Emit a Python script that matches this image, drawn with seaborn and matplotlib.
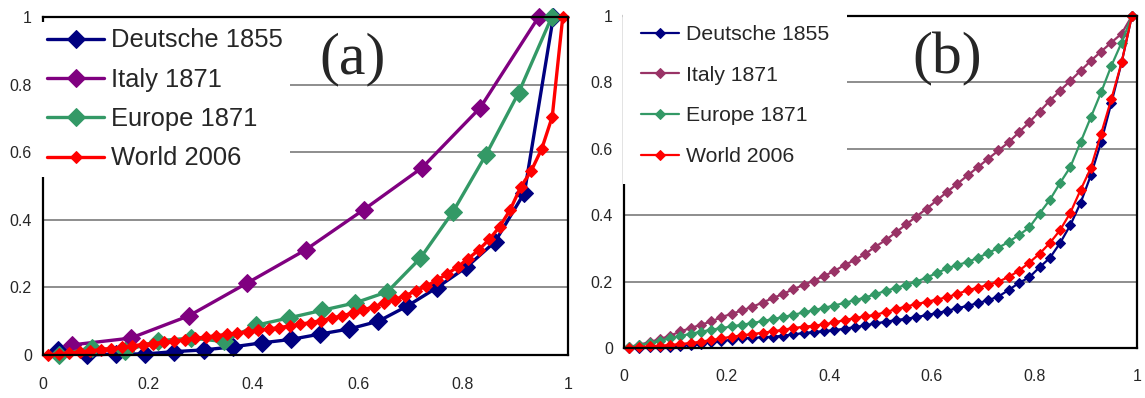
import matplotlib
matplotlib.use('Agg')
import matplotlib.pyplot as plt
import seaborn as sns
import pandas as pd
from matplotlib import font_manager

# ---------------- data ----------------
series_names = ['Deutsche 1855', 'Italy 1871', 'Europe 1871', 'World 2006']

# panel (a)
deutsche_a_x = [0.028, 0.083, 0.139, 0.194, 0.25, 0.306, 0.361, 0.417, 0.472, 0.528,
                0.583, 0.639, 0.694, 0.75, 0.806, 0.861, 0.917, 0.972]
deutsche_a_y = [0.015, 0.0, 0.003, 0.003, 0.01, 0.015, 0.024, 0.036, 0.046, 0.062,
                0.077, 0.1, 0.145, 0.199, 0.259, 0.335, 0.48, 1.0]
italy_a_x = [0.056, 0.167, 0.278, 0.389, 0.5, 0.611, 0.722, 0.833, 0.944]
italy_a_y = [0.03, 0.05, 0.116, 0.213, 0.311, 0.43, 0.554, 0.732, 1.0]
europe_a_x = [0.031, 0.094, 0.156, 0.219, 0.281, 0.344, 0.406, 0.469, 0.531, 0.594,
              0.656, 0.719, 0.781, 0.844, 0.906, 0.969]
europe_a_y = [0.0, 0.022, 0.012, 0.042, 0.05, 0.04, 0.088, 0.11, 0.132, 0.154,
              0.187, 0.287, 0.424, 0.593, 0.776, 1.0]
share50 = [0.01, 0.03, 0.05, 0.07, 0.09, 0.11, 0.13, 0.15, 0.17, 0.19,
           0.21, 0.23, 0.25, 0.27, 0.29, 0.31, 0.33, 0.35, 0.37, 0.39,
           0.41, 0.43, 0.45, 0.47, 0.49, 0.51, 0.53, 0.55, 0.57, 0.59,
           0.61, 0.63, 0.65, 0.67, 0.69, 0.71, 0.73, 0.75, 0.77, 0.79,
           0.81, 0.83, 0.85, 0.87, 0.89, 0.91, 0.93, 0.95, 0.97, 0.99]
world_a_y = [0.0, 0.003, 0.006, 0.009, 0.012, 0.016, 0.019, 0.023, 0.027, 0.031,
             0.034, 0.038, 0.041, 0.045, 0.049, 0.053, 0.057, 0.061, 0.065, 0.069,
             0.073, 0.077, 0.081, 0.086, 0.091, 0.096, 0.102, 0.109, 0.116, 0.124,
             0.133, 0.143, 0.153, 0.164, 0.176, 0.189, 0.204, 0.221, 0.24, 0.261,
             0.285, 0.311, 0.342, 0.38, 0.43, 0.497, 0.545, 0.61, 0.705, 1.0]

# panel (b)
deutsche_b_y = [0.0, 0.001, 0.002, 0.003, 0.004, 0.006, 0.009, 0.013, 0.017, 0.021,
                0.025, 0.029, 0.031, 0.032, 0.034, 0.037, 0.041, 0.045, 0.048, 0.051,
                0.054, 0.058, 0.063, 0.068, 0.074, 0.079, 0.084, 0.088, 0.093, 0.099,
                0.105, 0.112, 0.12, 0.127, 0.135, 0.144, 0.155, 0.175, 0.196, 0.213,
                0.243, 0.271, 0.316, 0.37, 0.437, 0.52, 0.62, 0.738, 0.86, 1.0]
italy_b_y = [0.003, 0.01, 0.018, 0.027, 0.037, 0.05, 0.06, 0.07, 0.08, 0.093,
             0.103, 0.113, 0.124, 0.137, 0.15, 0.163, 0.177, 0.19, 0.203, 0.217,
             0.232, 0.25, 0.265, 0.283, 0.305, 0.325, 0.348, 0.372, 0.396, 0.42,
             0.445, 0.47, 0.495, 0.52, 0.545, 0.57, 0.595, 0.62, 0.65, 0.68,
             0.712, 0.745, 0.775, 0.805, 0.835, 0.865, 0.893, 0.92, 0.947, 1.0]
europe_b_y = [0.002, 0.008, 0.015, 0.022, 0.029, 0.036, 0.043, 0.049, 0.055, 0.06,
              0.065, 0.07, 0.075, 0.081, 0.087, 0.093, 0.1, 0.107, 0.114, 0.121,
              0.128, 0.136, 0.144, 0.152, 0.162, 0.172, 0.181, 0.19, 0.2, 0.212,
              0.226, 0.24, 0.25, 0.259, 0.272, 0.286, 0.302, 0.32, 0.34, 0.363,
              0.405, 0.446, 0.497, 0.545, 0.62, 0.695, 0.77, 0.85, 0.92, 1.0]
world_b_y = [0.0, 0.003, 0.005, 0.007, 0.009, 0.012, 0.015, 0.019, 0.024, 0.029,
             0.034, 0.038, 0.042, 0.046, 0.05, 0.055, 0.06, 0.064, 0.067, 0.071,
             0.077, 0.084, 0.09, 0.095, 0.1, 0.108, 0.117, 0.125, 0.132, 0.139,
             0.146, 0.153, 0.163, 0.174, 0.182, 0.19, 0.2, 0.214, 0.233, 0.257,
             0.284, 0.316, 0.355, 0.407, 0.476, 0.542, 0.645, 0.75, 0.86, 1.0]

tick_vals = [0, 0.2, 0.4, 0.6, 0.8, 1]
tick_labels = ['0', '0.2', '0.4', '0.6', '0.8', '1']

colors_a = ['#000080', '#800080', '#339966', '#FF0000']
colors_b = ['#000080', '#993366', '#339966', '#FF0000']

# ---------------- style ----------------
sns.set_style('white')
names = {f.name for f in font_manager.fontManager.ttflist}
has_narrow = 'Liberation Sans Narrow' in names
narrow = 'Liberation Sans Narrow' if has_narrow else 'Liberation Sans'
plt.rcParams['font.family'] = ['Liberation Sans', 'DejaVu Sans']

fig = plt.figure(figsize=(11.45, 3.98), dpi=100)
axA = fig.add_axes([43 / 1145, 43 / 398, 525 / 1145, 338 / 398])
axB = fig.add_axes([624 / 1145, 50 / 398, 513 / 1145, 332 / 398])


def draw(ax, data, colors, sizes, lw):
    for (name, xs, ys), c, ms in zip(data, colors, sizes):
        df = pd.DataFrame({'x': xs, 'y': ys})
        sns.lineplot(data=df, x='x', y='y', ax=ax, color=c, lw=lw, marker='D',
                     markersize=ms, markeredgecolor=c, markerfacecolor=c,
                     label=name, sort=False, estimator=None, clip_on=False)


def style_axes(ax, fam, lsize, xpad):
    ax.set_xlim(0, 1)
    ax.set_ylim(0, 1)
    ax.set_xlabel('')
    ax.set_ylabel('')
    ax.set_xticks(tick_vals)
    ax.set_xticklabels(tick_labels, family=fam, fontsize=lsize)
    ax.set_yticks(tick_vals)
    ax.set_yticklabels(tick_labels, family=fam, fontsize=lsize)
    ax.tick_params(axis='x', direction='in', length=4, width=1, color='#555555', pad=xpad)
    ax.tick_params(axis='y', direction='in', length=4, width=1, color='#333333', pad=8)
    ax.yaxis.grid(True, color='#7a7a7a', lw=1.2)
    ax.xaxis.grid(False)
    ax.set_axisbelow(True)
    for s in ax.spines.values():
        s.set_visible(True)
        s.set_color('black')
        s.set_linewidth(1.6)
    ax.set_facecolor('white')


data_a = [(series_names[0], deutsche_a_x, deutsche_a_y),
          (series_names[1], italy_a_x, italy_a_y),
          (series_names[2], europe_a_x, europe_a_y),
          (series_names[3], share50, world_a_y)]
draw(axA, data_a, colors_a, [8.7, 8.7, 8.7, 6.3], 2.4)
style_axes(axA, 'Liberation Sans', 11.5, 16)
axA.text(0.59, 0.875, '(a)', transform=axA.transAxes, fontsize=43,
         family='Liberation Serif', ha='center', va='center')
axA.legend(loc='upper left', bbox_to_anchor=(-0.005, 0.985), borderaxespad=0,
           frameon=True, facecolor='white', edgecolor='none', framealpha=1,
           fancybox=False, fontsize=18.4, handlelength=2.25, handletextpad=0.28,
           labelspacing=0.6, borderpad=0.25)

data_b = [(series_names[0], share50, deutsche_b_y),
          (series_names[1], share50, italy_b_y),
          (series_names[2], share50, europe_b_y),
          (series_names[3], share50, world_b_y)]
draw(axB, data_b, colors_b, [5.2, 5.2, 5.2, 5.2], 1.6)
b_tick_size = 12.5 if has_narrow else 11.5
b_leg_size = 16.5 if has_narrow else 15.3
style_axes(axB, narrow, b_tick_size, 15)
axB.text(0.63, 0.87, '(b)', transform=axB.transAxes, fontsize=43,
         family='Liberation Serif', ha='center', va='center')
axB.legend(loc='upper left', bbox_to_anchor=(-0.002, 1.027), borderaxespad=0,
           frameon=True, facecolor='white', edgecolor='none', framealpha=1,
           fancybox=False, prop={'family': narrow, 'size': b_leg_size},
           handlelength=1.8, handletextpad=0.3, labelspacing=1.02, borderpad=0.85)

fig.savefig('out.png', dpi=100, facecolor='white')
